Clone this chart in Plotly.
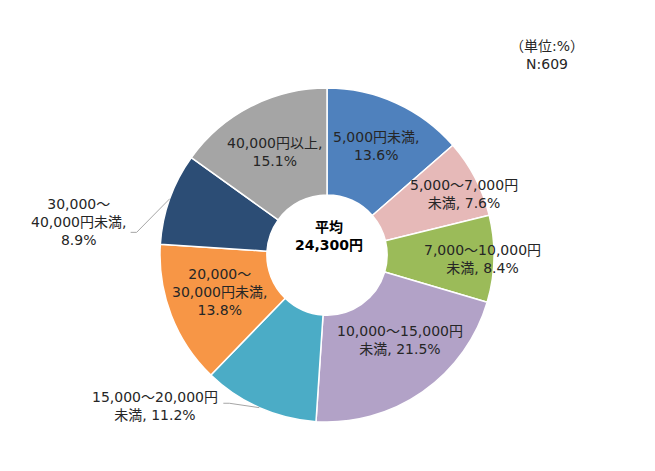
import numpy as np
import plotly.graph_objects as go

categories = ["5,000円未満", "5,000～7,000円未満", "7,000～10,000円未満", "10,000～15,000円未満",
              "15,000～20,000円未満", "20,000～30,000円未満", "30,000～40,000円未満", "40,000円以上"]
values = [13.6, 7.6, 8.4, 21.5, 11.2, 13.8, 8.9, 15.1]
label_text = ["5,000円未満,<br>13.6%", "5,000～7,000円<br>未満, 7.6%", "7,000～10,000円<br>未満, 8.4%",
              "10,000～15,000円<br>未満, 21.5%", "15,000～20,000円<br>未満, 11.2%",
              "20,000～<br>30,000円未満,<br>13.8%", "30,000～<br>40,000円未満,<br>8.9%",
              "40,000円以上,<br>15.1%"]
average_text = "平均<br>24,300円"
unit_text = "（単位:%）<br>N:609"

colors = ["#4F81BD", "#E6B9B8", "#9BBB59", "#B2A2C7", "#4BACC6", "#F79646", "#2C4D75", "#A5A5A5"]

W, H = 655, 471
OFF = 8                      # page body margin
cx, cy, R = 327, 255, 167    # pie centre / radius in pixels (as seen in the window)
# label placement: (radius fraction, angle shift in degrees)
label_pos = [(0.72, 0), (0.90, 3.5), (0.93, 0), (0.67, -6), (1.37, 24.7), (0.68, 2), (1.50, -12.2), (0.69, 0)]
# leader lines for outside labels: (end dx, knee dx, dy) relative to label centre, pixels
leaders = {4: (68, 74, -3), 6: (52, 58, 10)}

font = "DejaVu Sans, Noto Sans CJK JP"
fsize = 14
txt_color = "#262626"


def px2paper(x, y):
    return (x - OFF) / W, 1 - (y - OFF) / H


x0, y1 = px2paper(cx - R, cy - R)
x1, y0 = px2paper(cx + R, cy + R)

fig = go.Figure(go.Pie(
    labels=categories, values=values, sort=False, direction="clockwise", rotation=0,
    hole=0.36, marker=dict(colors=colors, line=dict(color="white", width=1.5)),
    textinfo="none", hoverinfo="label+percent", showlegend=False,
    domain=dict(x=[x0, x1], y=[y0, y1]),
))

total = sum(values)
cum = np.cumsum([0] + values)
annotations = []
shapes = []
for i, v in enumerate(values):
    mid = (cum[i] + v / 2) / total * 360
    rf, shift = label_pos[i]
    th = np.radians(mid + shift)
    lx = cx + rf * R * np.sin(th)
    ly = cy - rf * R * np.cos(th)
    ax_, ay_ = px2paper(lx, ly)
    annotations.append(dict(x=ax_, y=ay_, xref="paper", yref="paper", text=label_text[i],
                            showarrow=False, font=dict(family=font, size=fsize, color=txt_color),
                            align="center", xanchor="center", yanchor="middle"))
    if i in leaders:
        ex, kx, dy = leaders[i]
        tm = np.radians(mid)
        px_ = cx + R * np.sin(tm)
        py_ = cy - R * np.cos(tm)
        pts = [px2paper(lx + ex, ly + dy), px2paper(lx + kx, ly + dy), px2paper(px_, py_)]
        path = "M {} {} L {} {} L {} {}".format(*[c for p in pts for c in p])
        shapes.append(dict(type="path", path=path, xref="paper", yref="paper",
                           line=dict(color="#A6A6A6", width=1)))

mx, my = px2paper(329, 236)
annotations.append(dict(x=mx, y=my, xref="paper", yref="paper", text="<b>" + average_text + "</b>",
                        showarrow=False, font=dict(family=font, size=fsize, color="#000000"),
                        align="center", xanchor="center", yanchor="middle"))
ux, uy = px2paper(547, 55)
annotations.append(dict(x=ux, y=uy, xref="paper", yref="paper", text=unit_text,
                        showarrow=False, font=dict(family=font, size=fsize, color=txt_color),
                        align="center", xanchor="center", yanchor="middle"))

fig.update_layout(width=W, height=H, margin=dict(l=0, r=0, t=0, b=0),
                  paper_bgcolor="white", plot_bgcolor="white",
                  annotations=annotations, shapes=shapes)

fig.write_html("out.html")
